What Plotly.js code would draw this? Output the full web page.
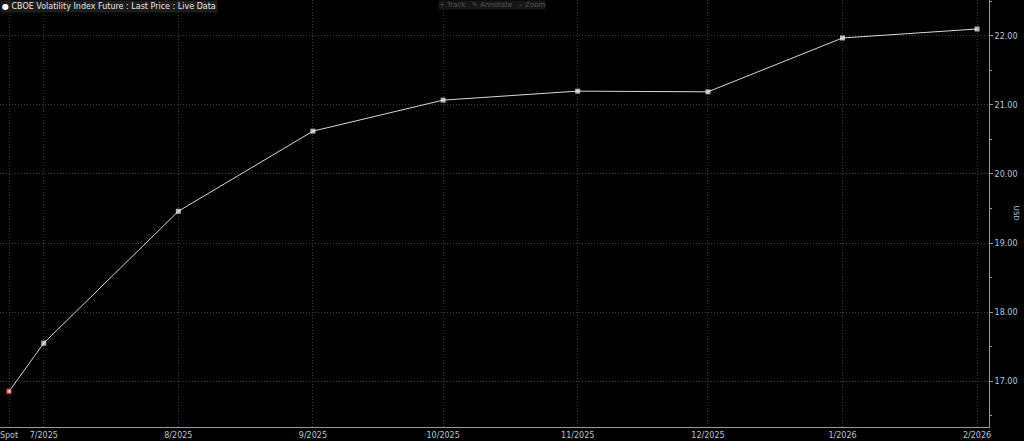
<!DOCTYPE html>
<html>
<head>
<meta charset="utf-8">
<script src="https://cdn.plot.ly/plotly-3.0.1.min.js"></script>
<style>
html,body{margin:0;padding:0;background:#000;}
#chart{width:1024px;height:441px;}
</style>
</head>
<body>
<div id="chart"></div>
<script>
// Data
const categories = ["Spot","7/2025","8/2025","9/2025","10/2025","11/2025","12/2025","1/2026","2/2026"];
const dates = ["2025-06-23","2025-07-01","2025-08-01","2025-09-01","2025-10-01","2025-11-01","2025-12-01","2026-01-01","2026-02-01"];
const prices = [16.85, 17.55, 19.46, 20.62, 21.07, 21.20, 21.19, 21.97, 22.10];
const yTickVals = [17,18,19,20,21,22];
const yTickText = ["17.00","18.00","19.00","20.00","21.00","22.00"];

const markerLineColors = prices.map((p,i)=> i===0 ? "#d01010" : "#ffffff");
const markerLineWidths = prices.map((p,i)=> i===0 ? 1.2 : 0);
const markerSizes = prices.map((p,i)=> i===0 ? 5 : 5);

const trace = {
  x: dates, y: prices, type: "scatter", mode: "lines+markers",
  line: {color: "#d8d8d8", width: 1},
  marker: {symbol: "square", size: markerSizes, color: "#ffffff",
           line: {color: markerLineColors, width: markerLineWidths}},
  hoverinfo: "skip", showlegend: false
};

const layout = {
  width: 1024, height: 441,
  paper_bgcolor: "#000000", plot_bgcolor: "#000000",
  margin: {l: 0, r: 35, t: 0, b: 14, pad: 0},
  font: {family: "DejaVu Sans, sans-serif", size: 9, color: "#b9c7d6"},
  xaxis: {
    type: "date",
    range: ["2025-06-20 22:00", "2026-02-03 18:00"],
    tickmode: "array", tickvals: dates, ticktext: categories,
    showgrid: true, gridcolor: "#3c3c3c", griddash: "1px,2px", gridwidth: 1,
    showline: true, linecolor: "#9a9a9a", linewidth: 1,
    ticks: "", ticklabeloverflow: "allow",
    tickfont: {size: 8, color: "#b9c7d6", family: "DejaVu Sans, sans-serif"},
    zeroline: false, fixedrange: true
  },
  yaxis: {
    side: "right",
    range: [16.335, 22.52],
    tickmode: "array", tickvals: yTickVals, ticktext: yTickText,
    showgrid: true, gridcolor: "#3c3c3c", griddash: "1px,2px", gridwidth: 1,
    showline: true, linecolor: "#9a9a9a", linewidth: 1,
    ticks: "outside", ticklen: 3, tickcolor: "#9a9a9a", ticklabeloverflow: "allow",
    minor: {dtick: 0.5, tick0: 16.5, ticks: "outside", ticklen: 2, tickcolor: "#9a9a9a", showgrid: false},
    tickfont: {size: 8, color: "#b9c7d6", family: "DejaVu Sans, sans-serif"},
    zeroline: false, fixedrange: true
  },
  annotations: [
    {xref: "paper", yref: "paper", x: 1.028, y: 0.5, xanchor: "center", yanchor: "middle",
     text: "USD", textangle: 90, showarrow: false,
     font: {size: 7, color: "#b9c7d6", family: "DejaVu Sans, sans-serif"}},
    {xref: "paper", yref: "paper", x: 0.0, y: 1.0, xanchor: "left", yanchor: "top",
     text: "<span style='color:#ffffff'>●</span> CBOE Volatility Index Future : Last Price : Live Data",
     showarrow: false, bgcolor: "#1c1c1c", borderpad: 1,
     font: {size: 8, color: "#e8e8e8", family: "DejaVu Sans, sans-serif"}},
    {xref: "paper", yref: "paper", x: 0.497, y: 1.0, xanchor: "center", yanchor: "top",
     text: "+ Track   ✎ Annotate   ⌕ Zoom",
     showarrow: false, bgcolor: "#161616", borderpad: 0,
     font: {size: 7, color: "#555555", family: "DejaVu Sans, sans-serif"}}
  ]
};

Plotly.newPlot("chart", [trace], layout, {displayModeBar: false, staticPlot: true});
</script>
</body>
</html>
